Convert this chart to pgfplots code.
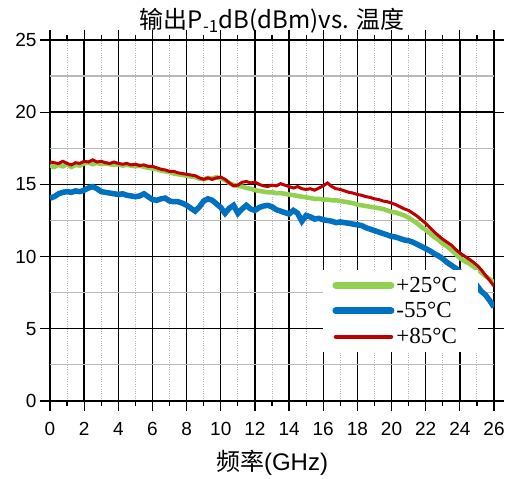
\documentclass[border=0pt]{standalone}
\usepackage{fontspec}
\setmainfont{Liberation Sans}
\newfontfamily\cjk{Noto Sans CJK SC}
\newfontfamily\tnr{Liberation Serif}
\usepackage{pgfplots}
\pgfplotsset{compat=1.18}
\definecolor{g25}{RGB}{146,208,80}
\definecolor{b55}{RGB}{0,112,192}
\definecolor{r85}{RGB}{192,0,0}

\begin{document}
\begin{tikzpicture}
\begin{axis}[
    at={(0pt,0pt)}, anchor=south west,
    scale only axis, width=444pt, height=361pt,
    xmin=0, xmax=26, ymin=0, ymax=25,
    xtick={0,2,...,26}, minor xtick={1,3,...,25},
    ytick={0,5,...,25},
    extra y ticks={2.5,7.5,12.5,17.5,22.5}, extra y tick labels={},
    extra y tick style={major grid style={gray!55,line width=1.2pt}, major tick length=0pt},
    xmajorgrids, xminorgrids, ymajorgrids,
    major grid style={black,line width=1.4pt},
    minor grid style={gray!60,dotted,line width=1pt},
    axis line style={black,line width=1.4pt},
    tick style={black,line width=1.2pt},
    tick align=outside, major tick length=10pt, minor tick length=5pt,
    /pgf/number format/assume math mode=true,
    tick label style={font=\fontsize{19}{19}\selectfont},
    xticklabel style={yshift=-8pt},
    title={\cjk 输出P\textsubscript{-1}dB(dBm)vs. 温度},
    title style={font=\fontsize{24}{24}\selectfont, yshift=-3pt},
    xlabel={{\cjk 频率}(GHz)},
    xlabel style={font=\fontsize{24}{24}\selectfont, yshift=-7pt},
    legend style={at={(axis cs:16,9.1)}, anchor=north west, draw=none, fill=white,
        font=\tnr\fontsize{23}{23}\selectfont, row sep=5pt, inner xsep=9pt, inner ysep=5pt},
    legend cell align=left,
    legend image code/.code={\draw[#1,line cap=round] (0pt,0pt) -- (55pt,0pt);},
]
\addplot[g25, line width=4.5pt, forget plot] coordinates {
(0,16.3)(0.25,16.2)(0.5,16.35)(0.75,16.25)(1,16.4)(1.25,16.2)(1.5,16.35)(1.75,16.3)
(2,16.45)(2.25,16.5)(2.5,16.4)(2.75,16.5)(3,16.4)(3.25,16.45)(3.5,16.4)(3.75,16.35)
(4,16.4)(4.25,16.3)(4.5,16.35)(4.75,16.3)(5,16.25)(5.25,16.3)(5.5,16.2)(5.75,16.15)
(6,16.1)(6.25,16.05)(6.5,15.95)(6.75,15.9)(7,15.85)(7.25,15.75)(7.5,15.7)(7.75,15.65)
(8,15.6)(8.25,15.55)(8.5,15.5)(8.75,15.4)(9,15.35)(9.25,15.45)(9.5,15.4)(9.75,15.5)
(10,15.4)(10.25,15.3)(10.5,15.1)(10.75,14.95)(11,14.9)(11.25,14.85)(11.5,14.75)(11.75,14.7)
(12,14.6)(12.25,14.55)(12.5,14.5)(12.75,14.45)(13,14.45)(13.25,14.4)(13.5,14.4)(13.75,14.35)
(14,14.3)(14.25,14.25)(14.5,14.2)(14.75,14.15)(15,14.1)(15.25,14.05)(15.5,14.0)(15.75,14.0)
(16,13.95)(16.25,13.95)(16.5,13.9)(16.75,13.9)(17,13.85)(17.25,13.8)(17.5,13.75)(17.75,13.7)
(18,13.6)(18.25,13.55)(18.5,13.5)(18.75,13.45)(19,13.4)(19.25,13.35)(19.5,13.3)(19.75,13.2)
(20,13.1)(20.25,13.05)(20.5,12.95)(20.75,12.85)(21,12.7)(21.25,12.5)(21.5,12.3)(21.75,12.05)
(22,11.85)(22.25,11.6)(22.5,11.35)(22.75,11.15)(23,10.9)(23.25,10.7)(23.5,10.45)(23.75,10.2)
(24,9.9)(24.25,9.7)(24.5,9.55)(24.75,9.35)(25,9.15)(25.25,8.9)(25.5,8.65)(25.75,8.45)(26,8.2)
};
\addplot[b55, line width=5.5pt, forget plot] coordinates {
(0,14.05)(0.25,14.15)(0.5,14.35)(0.75,14.45)(1,14.5)(1.25,14.45)(1.5,14.55)(1.75,14.5)
(2,14.6)(2.25,14.75)(2.5,14.85)(2.75,14.7)(3,14.5)(3.25,14.45)(3.5,14.4)(3.75,14.35)
(4,14.3)(4.25,14.35)(4.5,14.25)(4.75,14.2)(5,14.15)(5.25,14.2)(5.5,14.35)(5.75,14.15)
(6,13.95)(6.25,13.9)(6.5,14.0)(6.75,14.05)(7,13.85)(7.25,13.8)(7.5,13.8)(7.75,13.7)
(8,13.55)(8.25,13.35)(8.5,13.15)(8.75,13.45)(9,13.85)(9.25,14.0)(9.5,13.9)(9.75,13.65)
(10,13.4)(10.25,13.0)(10.5,13.35)(10.75,13.55)(11,13.0)(11.25,13.3)(11.5,13.55)(11.75,13.3)
(12,13.2)(12.25,13.4)(12.5,13.5)(12.75,13.55)(13,13.45)(13.25,13.25)(13.5,13.15)(13.75,13.05)
(14,12.95)(14.25,13.2)(14.5,13.0)(14.75,12.45)(15,12.85)(15.25,12.75)(15.5,12.6)(15.75,12.65)
(16,12.55)(16.25,12.5)(16.5,12.45)(16.75,12.35)(17,12.4)(17.25,12.35)(17.5,12.3)(17.75,12.25)
(18,12.2)(18.25,12.15)(18.5,12.0)(18.75,11.9)(19,11.8)(19.25,11.7)(19.5,11.6)(19.75,11.5)
(20,11.4)(20.25,11.35)(20.5,11.25)(20.75,11.15)(21,11.1)(21.25,11.0)(21.5,10.85)(21.75,10.7)
(22,10.55)(22.25,10.4)(22.5,10.2)(22.75,10.05)(23,9.85)(23.25,9.6)(23.5,9.4)(23.75,9.2)
(24,8.95)(24.25,8.75)(24.5,8.55)(24.75,8.3)(25,8.0)(25.25,7.6)(25.5,7.35)(25.75,6.95)(26,6.5)
};
\addplot[r85, line width=3pt, forget plot] coordinates {
(0,16.55)(0.25,16.5)(0.5,16.45)(0.75,16.6)(1,16.45)(1.25,16.35)(1.5,16.5)(1.75,16.45)
(2,16.6)(2.25,16.55)(2.5,16.7)(2.75,16.55)(3,16.6)(3.25,16.5)(3.5,16.45)(3.75,16.55)
(4,16.45)(4.25,16.4)(4.5,16.45)(4.75,16.35)(5,16.4)(5.25,16.3)(5.5,16.35)(5.75,16.25)
(6,16.25)(6.25,16.15)(6.5,16.05)(6.75,16.0)(7,15.9)(7.25,15.9)(7.5,15.8)(7.75,15.75)
(8,15.7)(8.25,15.65)(8.5,15.6)(8.75,15.45)(9,15.35)(9.25,15.45)(9.5,15.35)(9.75,15.45)
(10,15.5)(10.25,15.35)(10.5,15.1)(10.75,14.9)(11,14.95)(11.25,15.15)(11.5,15.2)(11.75,15.1)
(12,15.15)(12.25,15.0)(12.5,14.9)(12.75,14.85)(13,14.95)(13.25,14.9)(13.5,15.05)(13.75,14.95)
(14,14.85)(14.25,14.75)(14.5,14.85)(14.75,14.7)(15,14.65)(15.25,14.7)(15.5,14.6)(15.75,14.75)
(16,14.9)(16.25,15.1)(16.5,14.85)(16.75,14.7)(17,14.65)(17.25,14.55)(17.5,14.45)(17.75,14.4)
(18,14.3)(18.25,14.25)(18.5,14.15)(18.75,14.1)(19,14.0)(19.25,13.95)(19.5,13.85)(19.75,13.8)
(20,13.7)(20.25,13.6)(20.5,13.45)(20.75,13.3)(21,13.2)(21.25,13.0)(21.5,12.8)(21.75,12.55)
(22,12.3)(22.25,12.0)(22.5,11.7)(22.75,11.45)(23,11.2)(23.25,11.0)(23.5,10.8)(23.75,10.5)
(24,10.25)(24.25,10.05)(24.5,9.85)(24.75,9.65)(25,9.4)(25.25,9.1)(25.5,8.7)(25.75,8.35)(26,7.95)
};
\addlegendimage{g25, line width=7pt}
\addlegendentry{+25°C\hspace*{10pt}}
\addlegendimage{b55, line width=7pt}
\addlegendentry{-55°C\hspace*{10pt}}
\addlegendimage{r85, line width=4.5pt}
\addlegendentry{+85°C\hspace*{10pt}}
\end{axis}
% page frame as in the reference: 50pt left, 17pt right, 40pt above, 73pt below the axis box
\path (-50pt,-73pt) rectangle (461pt,401pt);
\end{tikzpicture}
\end{document}
